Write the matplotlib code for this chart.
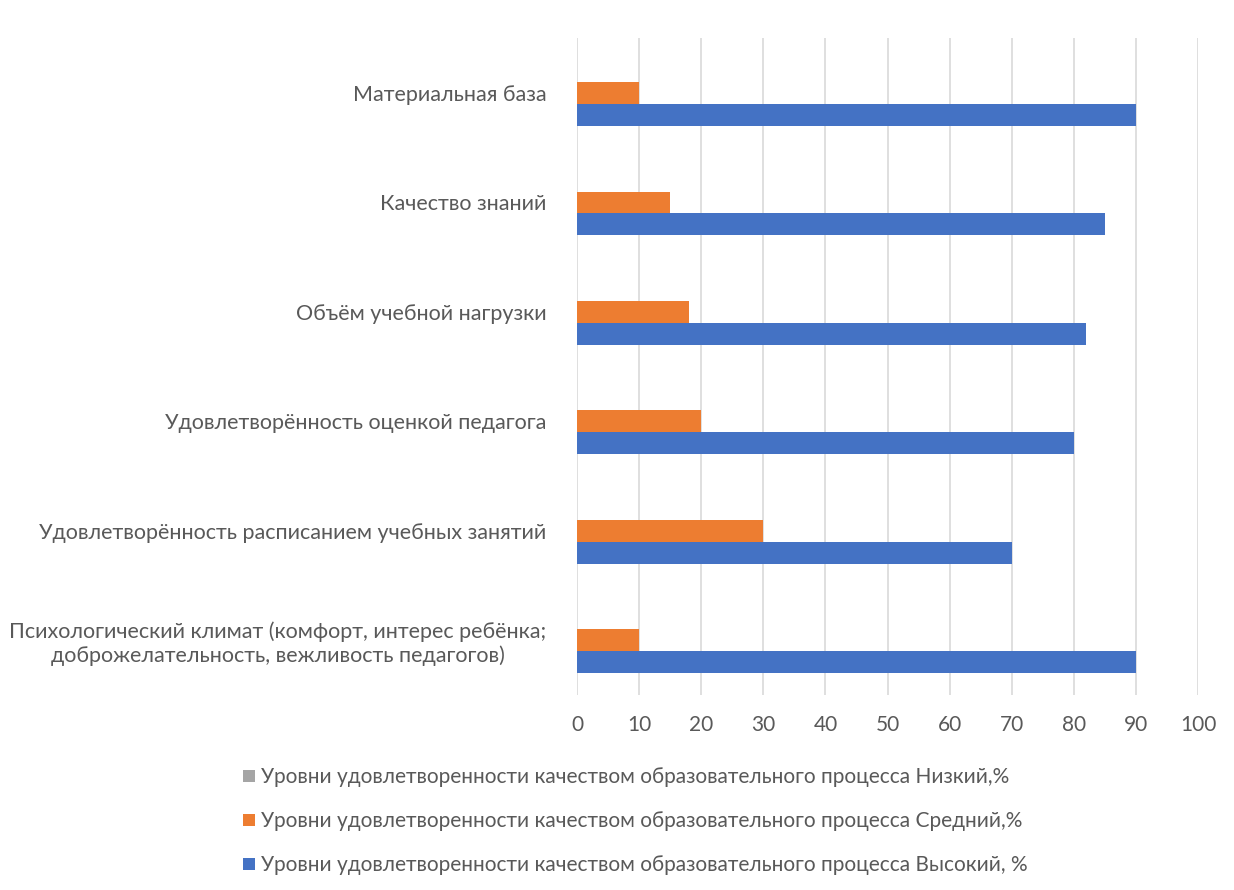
import matplotlib.pyplot as plt
import numpy as np

plt.rcParams['font.family'] = ['Lato', 'DejaVu Sans']

categories = [
    "Психологический климат (комфорт, интерес ребёнка;\nдоброжелательность, вежливость педагогов)",
    "Удовлетворённость расписанием учебных занятий",
    "Удовлетворённость оценкой педагога",
    "Объём учебной нагрузки",
    "Качество знаний",
    "Материальная база",
]
high = [90, 70, 80, 82, 85, 90]
medium = [10, 30, 20, 18, 15, 10]
low = [0, 0, 0, 0, 0, 0]

label_high = "Уровни удовлетворенности качеством образовательного процесса Высокий, %"
label_medium = "Уровни удовлетворенности качеством образовательного процесса Средний,%"
label_low = "Уровни удовлетворенности качеством образовательного процесса Низкий,%"

text_color = "#595959"

fig = plt.figure(figsize=(12.34, 8.9), dpi=100)
ax = fig.add_axes([0.4676, 0.219, 0.971 - 0.4676, 0.957 - 0.219])

y = np.arange(len(categories))
h = 0.2
ax.barh(y - h, high, height=h, color="#4472C4", label=label_high)
ax.barh(y, medium, height=h, color="#ED7D31", label=label_medium)
ax.barh(y + h, low, height=h, color="#A5A5A5", label=label_low)

ax.set_xlim(0, 100)
ax.set_ylim(-0.5, len(categories) - 0.5)
ax.set_xticks(range(0, 101, 10))
ax.set_yticks(y)
ax.set_yticklabels(categories, multialignment="center")
ax.tick_params(axis="y", length=0, pad=22)
ax.tick_params(axis="x", length=0, pad=14)
for t in ax.get_yticklabels():
    t.set_color(text_color)
    t.set_fontsize(15.5)
for t in ax.get_xticklabels():
    t.set_color(text_color)
    t.set_fontsize(15)

ax.grid(axis="x", color="#D9D9D9", linewidth=1.2)
ax.set_axisbelow(True)
for s in ax.spines.values():
    s.set_visible(False)

handles, labels = ax.get_legend_handles_labels()
leg = fig.legend(handles[::-1], labels[::-1], loc="upper left",
                 bbox_to_anchor=(0.182, 0.159), frameon=False,
                 fontsize=15, handlelength=0.55, handleheight=0.55,
                 handletextpad=0.3, labelspacing=1.15)
for t in leg.get_texts():
    t.set_color(text_color)

fig.savefig("out.png", dpi=100)
